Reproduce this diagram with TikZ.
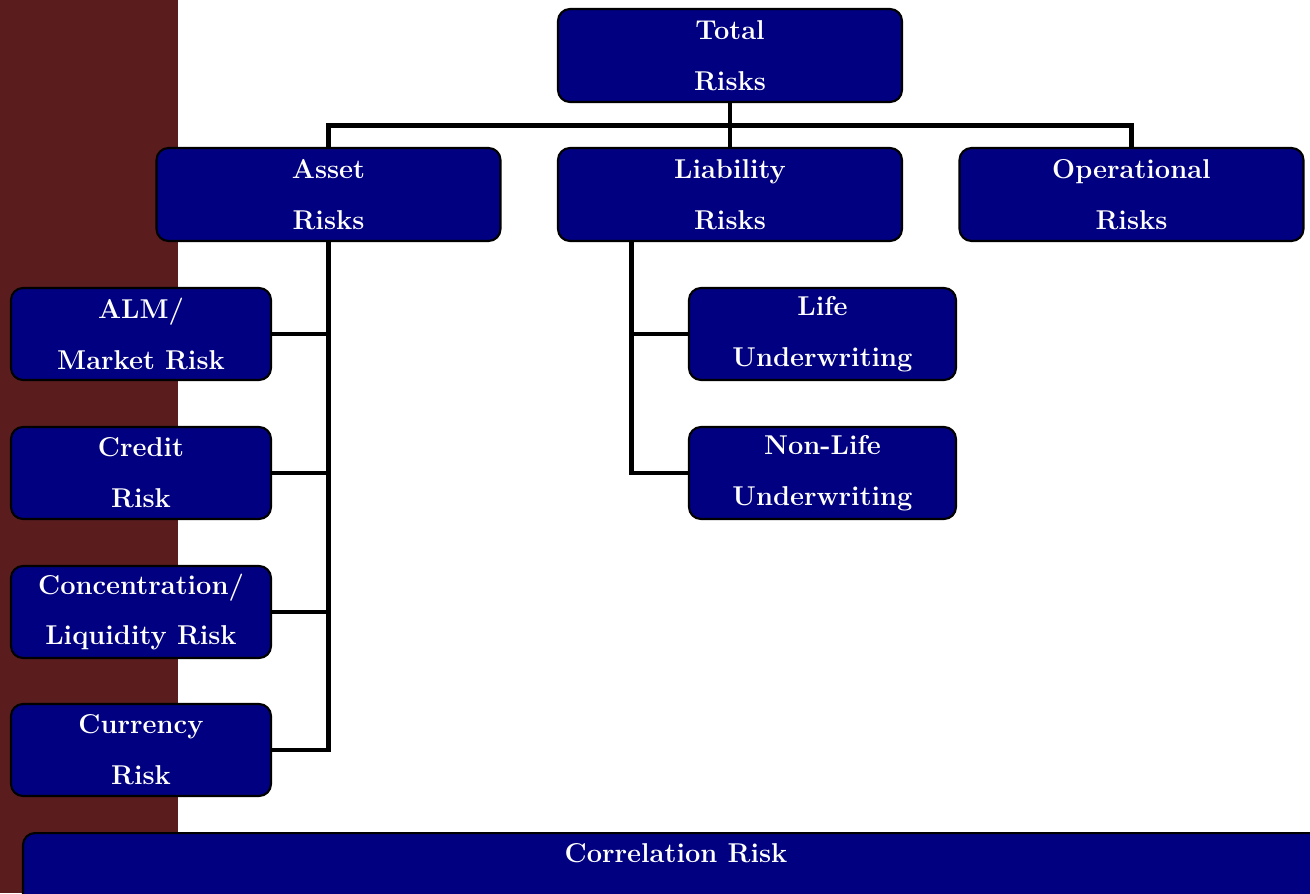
\documentclass[tikz,border=0pt]{standalone}
\usepackage{tikz}
\usetikzlibrary{scopes}

\definecolor{riskblue}{RGB}{0,0,128}
\definecolor{sidebar}{RGB}{91,28,30}

\begin{document}
\begin{tikzpicture}
\clip (0,0) rectangle (26.2,-17.86);
\fill[white] (0,0) rectangle (26.2,-17.86);
\fill[sidebar] (0,0) rectangle (3.56,-17.86);

\begin{scope}[every node/.style={draw=black,line width=1.2pt,fill=riskblue,
    rounded corners=0.24cm,text=white,align=center,
    font=\bfseries\fontsize{15.5}{29}\selectfont}]
    \node[minimum width=6.88cm,minimum height=1.86cm] (total) at (14.6,-1.11) {Total\\Risks};
    \node[minimum width=6.88cm,minimum height=1.86cm] (asset) at (6.57,-3.89) {Asset\\Risks};
    \node[minimum width=6.88cm,minimum height=1.86cm] (liab) at (14.6,-3.89) {Liability\\Risks};
    \node[minimum width=6.88cm,minimum height=1.86cm] (oper) at (22.63,-3.89) {Operational\\Risks};
    \node[minimum width=5.2cm,minimum height=1.84cm] (alm) at (2.82,-6.68) {ALM/\\Market Risk};
    \node[minimum width=5.2cm,minimum height=1.84cm] (credit) at (2.82,-9.46) {Credit\\Risk};
    \node[minimum width=5.2cm,minimum height=1.84cm] (conc) at (2.82,-12.24) {Concentration/\\Liquidity Risk};
    \node[minimum width=5.2cm,minimum height=1.84cm] (curr) at (2.82,-15.0) {Currency\\Risk};
    \node[minimum width=5.34cm,minimum height=1.84cm] (life) at (16.45,-6.68) {Life\\Underwriting};
    \node[minimum width=5.34cm,minimum height=1.84cm] (nonlife) at (16.45,-9.46) {Non-Life\\Underwriting};
    \node[minimum width=26.12cm,minimum height=2cm,anchor=north,
          label={[anchor=north,yshift=-0.1cm,text=white,font=\bfseries\fontsize{15.5}{29}\selectfont]north:Correlation Risk}]
          (corr) at (13.52,-16.64) {};
\end{scope}

\begin{scope}[line width=2.8pt]
    % top level
    \draw (total.south) -- (liab.north);
    \draw (total.south) -- ++(0,-0.45) -| (asset.north);
    \draw (total.south) -- ++(0,-0.45) -| (oper.north);
    % asset branch
    \draw (asset.south) |- (alm.east);
    \draw (asset.south) |- (credit.east);
    \draw (asset.south) |- (conc.east);
    \draw (asset.south) |- (curr.east);
    % liability branch
    \draw ([xshift=1.5cm]liab.south west) |- (life.west);
    \draw ([xshift=1.5cm]liab.south west) |- (nonlife.west);
\end{scope}
\end{tikzpicture}
\end{document}
